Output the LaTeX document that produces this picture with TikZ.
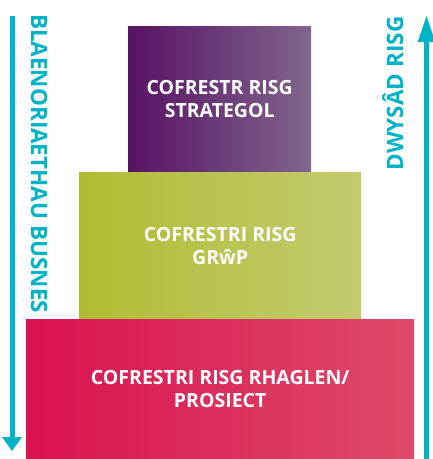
\documentclass[tikz,border=0pt]{standalone}
\usepackage{fontspec}
\setmainfont{Open Sans}
\usetikzlibrary{arrows.meta}
\definecolor{flowcyan}{RGB}{0,180,200}
\definecolor{stratleft}{RGB}{88,18,100}
\definecolor{stratright}{RGB}{128,102,142}
\definecolor{groupleft}{RGB}{176,189,50}
\definecolor{groupright}{RGB}{195,203,112}
\definecolor{progleft}{RGB}{218,18,80}
\definecolor{progright}{RGB}{222,74,106}
\tikzset{
	tier/.style={rectangle,inner sep=0pt,anchor=north west,text=white,align=center,
		font=\fontsize{19.5}{22.5}\selectfont\bfseries},
	sidelabel/.style={text=flowcyan,anchor=base,inner sep=0pt,
		font=\fontsize{22.5}{26}\selectfont\bfseries},
	flow/.style={draw=flowcyan,line width=5pt}
}
\begin{document}
\begin{tikzpicture}[x=1pt,y=-1pt]
		\useasboundingbox (0,0) rectangle (433,459);
		% tiers
			\node [tier,left color=stratleft,right color=stratright,minimum width=183pt,minimum height=146pt] (strat) at (128,26) {COFRESTR RISG\\STRATEGOL};
			\node [tier,left color=groupleft,right color=groupright,minimum width=282pt,minimum height=147pt] (group) at (79,172.5) {COFRESTRI RISG\\GR\^{w}P};
			\node [tier,left color=progleft,right color=progright,minimum width=388pt,minimum height=140pt] (prog) at (26,319) {COFRESTRI RISG RHAGLEN/\\PROSIECT};
		% side labels
			\node [sidelabel,rotate=-90] (priority) at (31,163.5) {BLAENORIAETHAU BUSNES};
			\node [sidelabel,rotate=90] (intensity) at (403,93.5) {DWYSÂD RISG};
		% arrows
			\coordinate (prioritytop) at (12,16);
			\coordinate (prioritybot) at (12,451);
			\coordinate (intensitybot) at (426.5,459);
			\coordinate (intensitytop) at (426.5,15);
			\draw [flow,-{Triangle[width=19pt,length=14pt]}] (prioritytop) -- (prioritybot);
			\draw [flow,-{Triangle[width=16pt,length=27pt]}] (intensitybot) -- (intensitytop);
	\end{tikzpicture}
\end{document}
